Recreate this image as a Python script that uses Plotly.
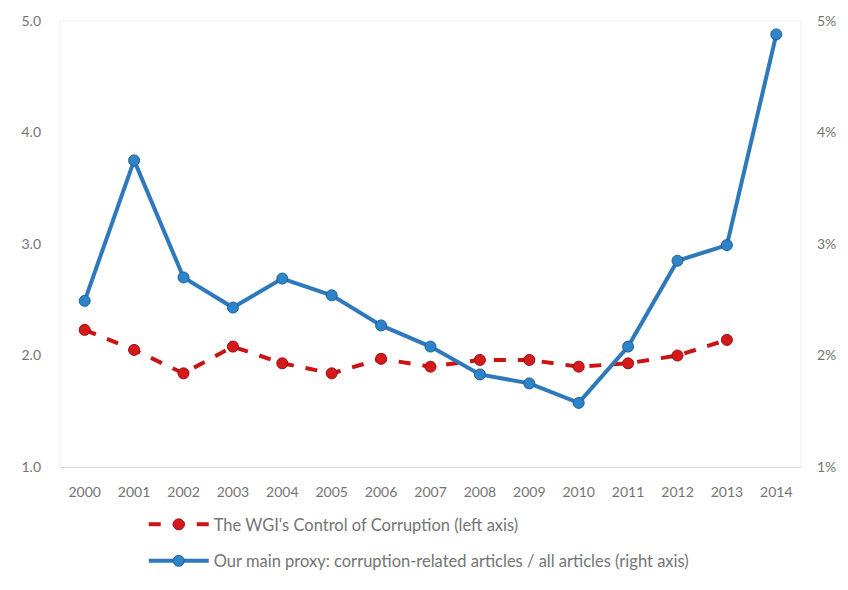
import plotly.graph_objects as go

years = [str(y) for y in range(2000, 2015)]

# WGI Control of Corruption score (left axis)
wgi = [2.23, 2.05, 1.84, 2.08, 1.93, 1.84, 1.97, 1.90, 1.96, 1.96, 1.90, 1.93, 2.00, 2.14]

# Share of corruption-related articles in all articles, % (right axis)
proxy = [2.49, 3.75, 2.70, 2.43, 2.69, 2.54, 2.27, 2.08, 1.83, 1.75, 1.575, 2.08, 2.85, 2.99, 4.88]

left_ticks = [1.0, 2.0, 3.0, 4.0, 5.0]
right_ticks = [1, 2, 3, 4, 5]

font_family = "Lato, Open Sans, sans-serif"
gray = "#747474"

fig = go.Figure()

fig.add_trace(go.Scatter(
    x=years[:len(wgi)], y=wgi, yaxis="y",
    name="The WGI's Control of Corruption (left axis)",
    legendgroup="wgi",
    mode="lines+markers",
    line=dict(color="#C81414", width=4, dash="dash"),
    marker=dict(size=11, color="#D41A1A", line=dict(color="#9E0B0B", width=1)),
))

fig.add_trace(go.Scatter(
    x=years, y=proxy, yaxis="y2",
    name="Our main proxy: corruption-related articles / all articles (right axis)",
    legendgroup="proxy",
    mode="lines+markers",
    line=dict(color="#2E78BC", width=4),
    marker=dict(size=11, color="#2E84C8", line=dict(color="#1F5F96", width=1)),
))

# faint frame around the plotting area
fig.add_shape(type="rect", xref="paper", yref="paper", x0=0, y0=0, x1=1, y1=1,
              line=dict(color="#F0F0F0", width=1), layer="below")

fig.update_layout(
    width=848, height=590,
    margin=dict(l=60, r=45, t=20, b=123),
    paper_bgcolor="white", plot_bgcolor="white",
    font=dict(family=font_family, size=14, color=gray),
    showlegend=True,
    legend=dict(
        orientation="v", x=0.113, xanchor="left", y=-0.09, yanchor="top",
        font=dict(size=16.5, color=gray), itemwidth=60, tracegroupgap=12,
        bgcolor="rgba(0,0,0,0)",
    ),
    xaxis=dict(
        type="category", range=[-0.5, 14.5],
        showgrid=False, zeroline=False,
        showline=True, linecolor="#D9D9D9", linewidth=1,
        ticks="", ticklabelstandoff=12,
        tickfont=dict(size=14, color=gray),
    ),
    yaxis=dict(
        range=[1.0, 5.0], tickvals=left_ticks, tickformat=".1f",
        showgrid=False, zeroline=False, showline=False,
        ticks="", ticklabelstandoff=18,
        tickfont=dict(size=14, color=gray),
    ),
    yaxis2=dict(
        range=[1, 5], tickvals=right_ticks, ticktext=[f"{v}%" for v in right_ticks],
        overlaying="y", side="right",
        showgrid=False, zeroline=False, showline=False,
        ticks="", ticklabelstandoff=15,
        tickfont=dict(size=14, color=gray),
    ),
)

fig.write_html("out.html")
